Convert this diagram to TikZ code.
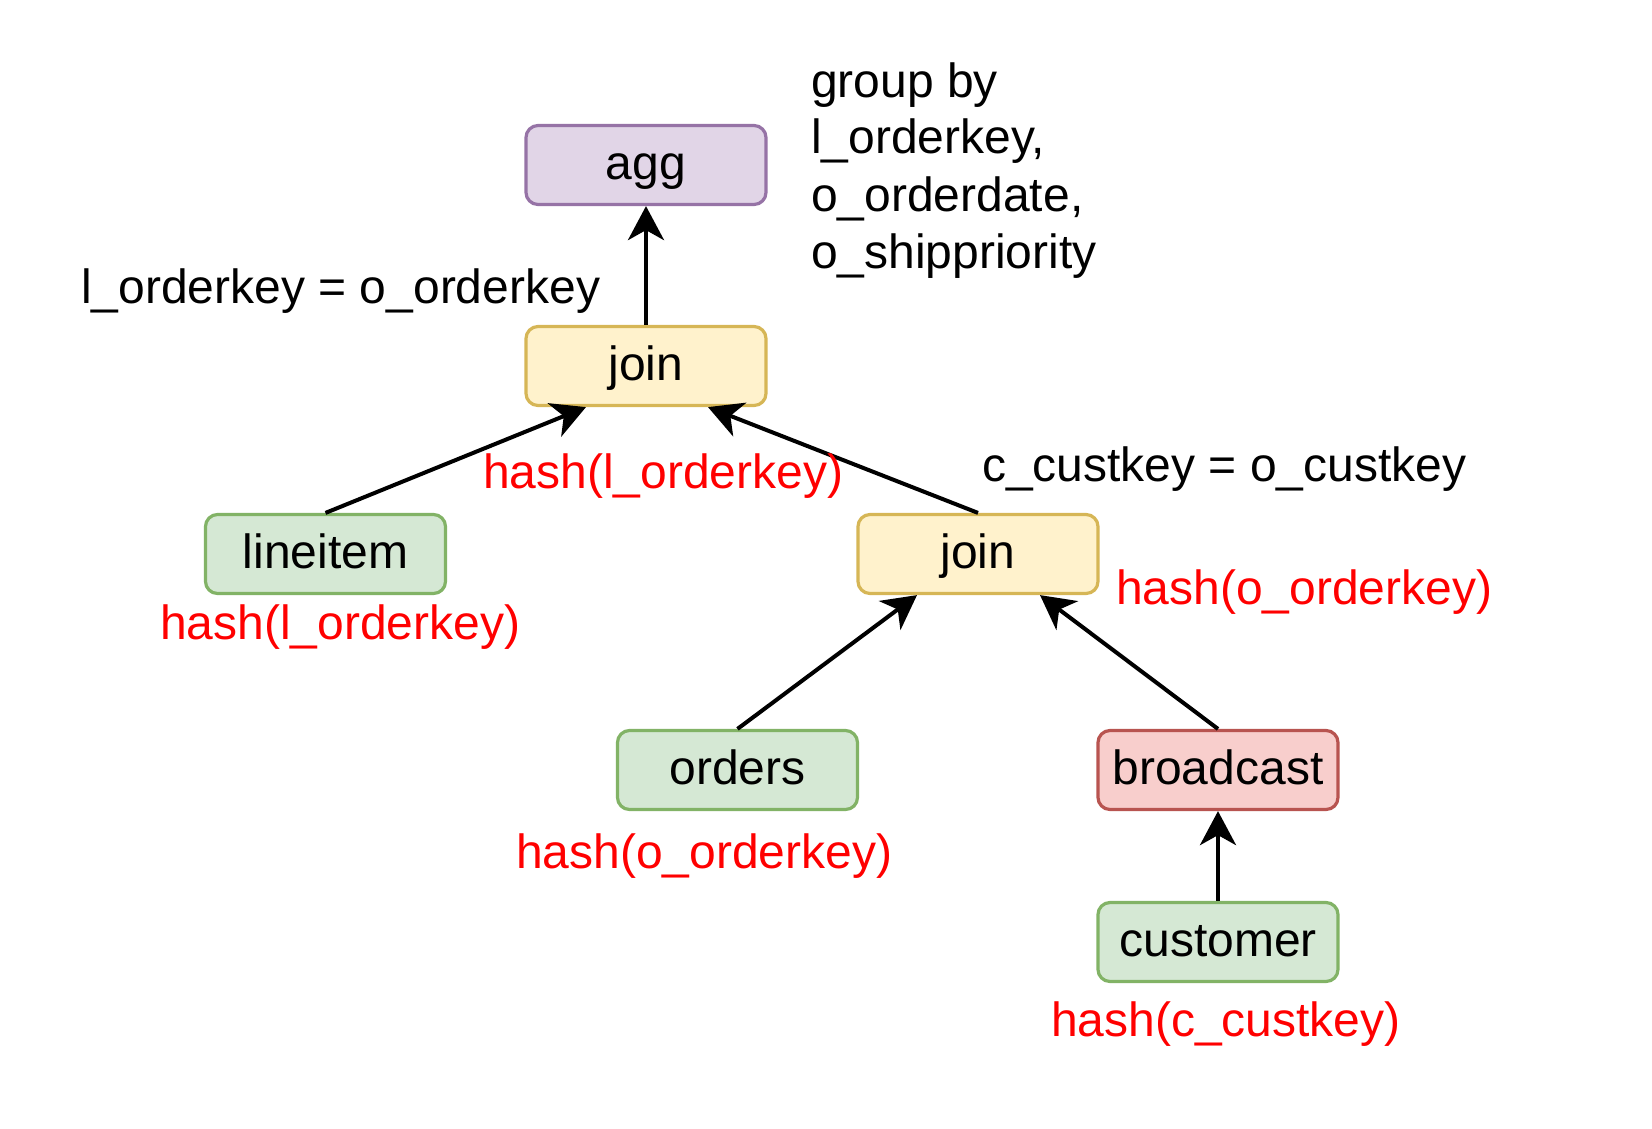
\documentclass[tikz,border=0pt]{standalone}
\usepackage{fontspec}
\setmainfont{Liberation Sans}
\usetikzlibrary{arrows.meta,calc}
\definecolor{aggfill}{HTML}{E1D5E7}\definecolor{aggdraw}{HTML}{9673A6}
\definecolor{joinfill}{HTML}{FFF2CC}\definecolor{joindraw}{HTML}{D6B656}
\definecolor{tabfill}{HTML}{D5E8D4}\definecolor{tabdraw}{HTML}{82B366}
\definecolor{bcfill}{HTML}{F8CECC}\definecolor{bcdraw}{HTML}{B85450}
\definecolor{hashred}{HTML}{FF0000}
\tikzset{
  box/.style={rectangle, rounded corners=12pt, line width=3.2pt, minimum width=240pt, minimum height=79pt,
    inner sep=0pt, text height=42pt, text depth=14pt, font=\fontsize{48pt}{55pt}\selectfont},
  aggbox/.style={box, fill=aggfill, draw=aggdraw},
  joinbox/.style={box, fill=joinfill, draw=joindraw},
  tabbox/.style={box, fill=tabfill, draw=tabdraw},
  bcbox/.style={box, fill=bcfill, draw=bcdraw},
  lbl/.style={anchor=base west, inner sep=0pt, font=\fontsize{48pt}{55pt}\selectfont},
  hashlbl/.style={lbl, text=hashred},
  conn/.style={line width=4pt, -{Stealth[length=34pt,width=36pt,inset=10pt]}}
}
\begin{document}
\begin{tikzpicture}[x=1pt,y=-1pt]
\useasboundingbox (0,0) rectangle (1652,1128);
\node[aggbox]  (agg)      at (646,165)  {agg};
\node[joinbox] (join1)    at (646,366)  {join};
\node[tabbox]  (lineitem) at (325.5,554) {lineitem};
\node[joinbox] (join2)    at (978,554)  {join};
\node[tabbox]  (orders)   at (737.5,770) {orders};
\node[bcbox]   (bcast)    at (1218,770) {broadcast};
\node[tabbox]  (customer) at (1218,942) {customer};

\draw[conn] (join1.north) -- (agg.south);
\draw[conn] (lineitem.north) -- ($(join1.south)+(-60,0)$);
\draw[conn] (join2.north) -- ($(join1.south)+(62,0)$);
\draw[conn] (orders.north) -- ($(join2.south)+(-61,0)$);
\draw[conn] (bcast.north) -- ($(join2.south)+(62,0)$);
\draw[conn] (customer.north) -- (bcast.south);

\node[lbl] (gb1) at (811,97) {group by};
\node[lbl] (gb2) at (811,153) {l\_orderkey,};
\node[lbl] (gb3) at (811,211) {o\_orderdate,};
\node[lbl] (gb4) at (811,268) {o\_shippriority};
\node[lbl] (cond1) at (81,303) {l\_orderkey = o\_orderkey};
\node[lbl] (cond2) at (982,481) {c\_custkey = o\_custkey};
\node[hashlbl] (h1) at (483,488) {hash(l\_orderkey)};
\node[hashlbl] (h2) at (1116,604) {hash(o\_orderkey)};
\node[hashlbl] (h3) at (160,639) {hash(l\_orderkey)};
\node[hashlbl] (h4) at (516,868) {hash(o\_orderkey)};
\node[hashlbl] (h5) at (1051,1036) {hash(c\_custkey)};
\end{tikzpicture}
\end{document}
